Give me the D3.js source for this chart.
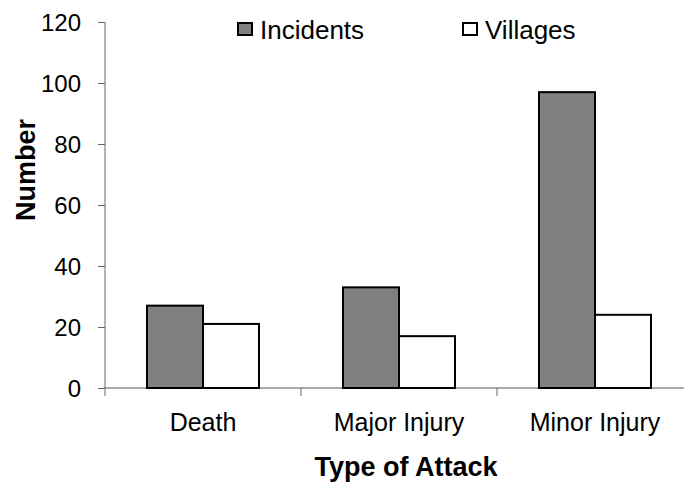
<!DOCTYPE html>
<html>
<head>
<meta charset="utf-8">
<script src="https://cdn.jsdelivr.net/npm/d3@7"></script>
<style>
  body { margin: 0; background: #fff; }
  text { font-family: Arial, "Liberation Sans", sans-serif; fill: #000; }
</style>
</head>
<body>
<svg id="chart" width="684" height="486"></svg>
<script>
var categories = ["Death", "Major Injury", "Minor Injury"];
var seriesNames = ["Incidents", "Villages"];
var incidents = [27, 33, 97];
var villages = [21, 17, 24];
var yTicks = [0, 20, 40, 60, 80, 100, 120];
var colors = { "Incidents": "#808080", "Villages": "#ffffff" };

var svg = d3.select("#chart");

var plotLeft = 105, plotRight = 693, plotTop = 22, plotBottom = 388;

var x0 = d3.scaleBand().domain(categories).range([plotLeft, plotRight]);
var x1 = d3.scaleBand().domain(seriesNames).range([0, x0.bandwidth()]).paddingOuter(0.75);
var y = d3.scaleLinear().domain([0, 120]).range([plotBottom, plotTop]);

var rows = categories.map(function (c, i) {
	return { cat: c, values: [{ s: "Incidents", v: incidents[i] }, { s: "Villages", v: villages[i] }] };
});

// y axis
var yAxis = svg.append("g")
	.attr("transform", "translate(" + plotLeft + ",0)")
	.call(d3.axisLeft(y).tickValues(yTicks).tickSize(7).tickPadding(17));
yAxis.select(".domain").attr("stroke", "#666").attr("d", "M0," + plotTop + "V" + (plotBottom + 8));
yAxis.selectAll(".tick line").attr("stroke", "#666");
yAxis.selectAll("text")
	.style("font-size", "24px")
	.style("font-family", "Arial, 'Liberation Sans', sans-serif")
	.attr("fill", "#000")
	.attr("dy", "0.36em");

// x axis line + boundary ticks
svg.append("line")
	.attr("x1", plotLeft).attr("x2", plotRight)
	.attr("y1", plotBottom).attr("y2", plotBottom)
	.attr("stroke", "#555");
svg.selectAll(".xtick")
	.data(categories)
	.enter().append("line")
	.attr("class", "xtick")
	.attr("x1", function (d) { return x0(d) + x0.bandwidth(); })
	.attr("x2", function (d) { return x0(d) + x0.bandwidth(); })
	.attr("y1", plotBottom).attr("y2", plotBottom + 8)
	.attr("stroke", "#666");

// bars
var groups = svg.selectAll(".grp")
	.data(rows)
	.enter().append("g")
	.attr("class", "grp")
	.attr("transform", function (d) { return "translate(" + x0(d.cat) + ",0)"; });

groups.selectAll("rect")
	.data(function (d) { return d.values; })
	.enter().append("rect")
	.attr("x", function (d) { return x1(d.s); })
	.attr("width", x1.bandwidth())
	.attr("y", function (d) { return y(d.v); })
	.attr("height", function (d) { return y(0) - y(d.v); })
	.attr("fill", function (d) { return colors[d.s]; })
	.attr("stroke", "#000")
	.attr("stroke-width", 2);

// category labels
svg.selectAll(".xlab")
	.data(categories)
	.enter().append("text")
	.attr("class", "xlab")
	.attr("x", function (d) { return x0(d) + x0.bandwidth() / 2; })
	.attr("y", 431)
	.attr("text-anchor", "middle")
	.style("font-size", "25px")
	.text(function (d) { return d; });

// axis titles
svg.append("text")
	.attr("x", 406).attr("y", 476)
	.attr("text-anchor", "middle")
	.style("font-size", "27px")
	.style("font-weight", "bold")
	.text("Type of Attack");

svg.append("text")
	.attr("transform", "translate(35,170) rotate(-90)")
	.attr("text-anchor", "middle")
	.style("font-size", "27px")
	.style("font-weight", "bold")
	.text("Number");

// legend
var legendX = [238, 463];
var legend = svg.selectAll(".leg")
	.data(seriesNames)
	.enter().append("g")
	.attr("class", "leg")
	.attr("transform", function (d, i) { return "translate(" + legendX[i] + ",23)"; });
legend.append("rect")
	.attr("width", 14).attr("height", 12)
	.attr("fill", function (d) { return colors[d]; })
	.attr("stroke", "#000").attr("stroke-width", 2);
legend.append("text")
	.attr("x", 22).attr("y", 16)
	.style("font-size", "26px")
	.text(function (d) { return d; });
</script>
</body>
</html>
